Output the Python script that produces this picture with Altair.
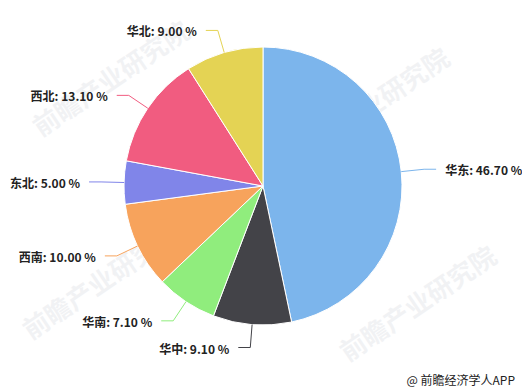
import altair as alt
import pandas as pd

# Regional shares (%)
regions = ["华东", "华中", "华南", "西南", "东北", "西北", "华北"]
shares = [46.7, 9.1, 7.1, 10.0, 5.0, 13.1, 9.0]
colors = ["#7cb5ec", "#434348", "#90ed7d", "#f7a35c", "#8085e9", "#f15c80", "#e4d354"]

watermark = "前瞻产业研究院"
credit = "@ 前瞻经济学人APP"

W, H = 522, 391
R = 139          # pie radius
R_ELBOW = 162    # where the connector bends
HOOK = 12        # horizontal part of the connector
GAP = 9          # space between connector and label

df = pd.DataFrame({"region": regions, "share": shares, "idx": list(range(len(regions)))})

# shared coordinate system centred on the pie (y up)
xs = alt.Scale(domain=[-263, W - 263], range=[0, W], nice=False, zero=False)
ys = alt.Scale(domain=[186 - H, 186], range=[H, 0], nice=False, zero=False)
cscale = alt.Scale(domain=regions, range=colors)

base = alt.Chart(df).transform_joinaggregate(
    total="sum(share)"
).transform_window(
    cum="sum(share)", sort=[alt.SortField("idx")], frame=[None, 0]
).transform_calculate(
    a="2*PI*(datum.cum - datum.share/2)/datum.total",
    side="sin(datum.a) >= 0 ? 1 : -1",
    ex=f"{R}*sin(datum.a)",
    ey=f"{R}*cos(datum.a)",
    bx=f"{R_ELBOW}*sin(datum.a)",
    by=f"{R_ELBOW}*cos(datum.a)",
    hx=f"datum.bx + datum.side*{HOOK}",
    tx=f"datum.hx + datum.side*{GAP}",
    label="datum.region + ': ' + format(datum.share, '.2f') + ' %'",
)

pie = base.mark_arc(radius=R, stroke="white", strokeWidth=1).encode(
    theta=alt.Theta("share:Q", stack=True),
    order=alt.Order("idx:Q"),
    color=alt.Color("region:N", scale=cscale, legend=None),
    x=alt.X(datum=0, scale=xs, axis=None),
    y=alt.Y(datum=0, scale=ys, axis=None),
)

leg1 = base.mark_rule(strokeWidth=1).encode(
    x=alt.X("ex:Q", scale=xs, axis=None),
    y=alt.Y("ey:Q", scale=ys, axis=None),
    x2="bx:Q",
    y2="by:Q",
    color=alt.Color("region:N", scale=cscale, legend=None),
)
leg2 = base.mark_rule(strokeWidth=1).encode(
    x=alt.X("bx:Q", scale=xs, axis=None),
    y=alt.Y("by:Q", scale=ys, axis=None),
    x2="hx:Q",
    y2="by:Q",
    color=alt.Color("region:N", scale=cscale, legend=None),
)

label_style = dict(fontSize=12, fontWeight="bold", font="Noto Sans CJK SC",
                   color="#222222", baseline="middle", dy=2)
labels_r = base.transform_filter("datum.side > 0").mark_text(align="left", **label_style).encode(
    x=alt.X("tx:Q", scale=xs, axis=None),
    y=alt.Y("by:Q", scale=ys, axis=None),
    text="label:N",
)
labels_l = base.transform_filter("datum.side < 0").mark_text(align="right", **label_style).encode(
    x=alt.X("tx:Q", scale=xs, axis=None),
    y=alt.Y("by:Q", scale=ys, axis=None),
    text="label:N",
)

# faint diagonal watermarks
wm_df = pd.DataFrame({"wx": [112, 372, 102, 419], "wy": [80, 107, 283, 305], "t": [watermark] * 4})
wm = alt.Chart(wm_df).mark_text(
    angle=326, fontSize=26, fontWeight="bold", font="Noto Sans CJK SC",
    color="#8a93a6", opacity=0.11, align="center", baseline="middle",
).encode(
    x=alt.X("wx:Q", scale=alt.Scale(domain=[0, W], range=[0, W], nice=False), axis=None),
    y=alt.Y("wy:Q", scale=alt.Scale(domain=[0, H], range=[0, H], nice=False), axis=None),
    text="t:N",
)

credit_mark = alt.Chart(pd.DataFrame({"t": [credit]})).mark_text(
    align="right", baseline="middle", fontSize=12, font="Noto Sans CJK SC", color="#222222",
).encode(x=alt.value(515), y=alt.value(381), text="t:N")

chart = alt.layer(wm, pie, leg1, leg2, labels_r, labels_l, credit_mark).resolve_scale(
    x="independent", y="independent"
).properties(
    width=W, height=H, padding=0, autosize=alt.AutoSizeParams(type="none"), background="white"
).configure_view(stroke=None)

chart.save("out.html", embed_options={"renderer": "svg", "actions": False})
